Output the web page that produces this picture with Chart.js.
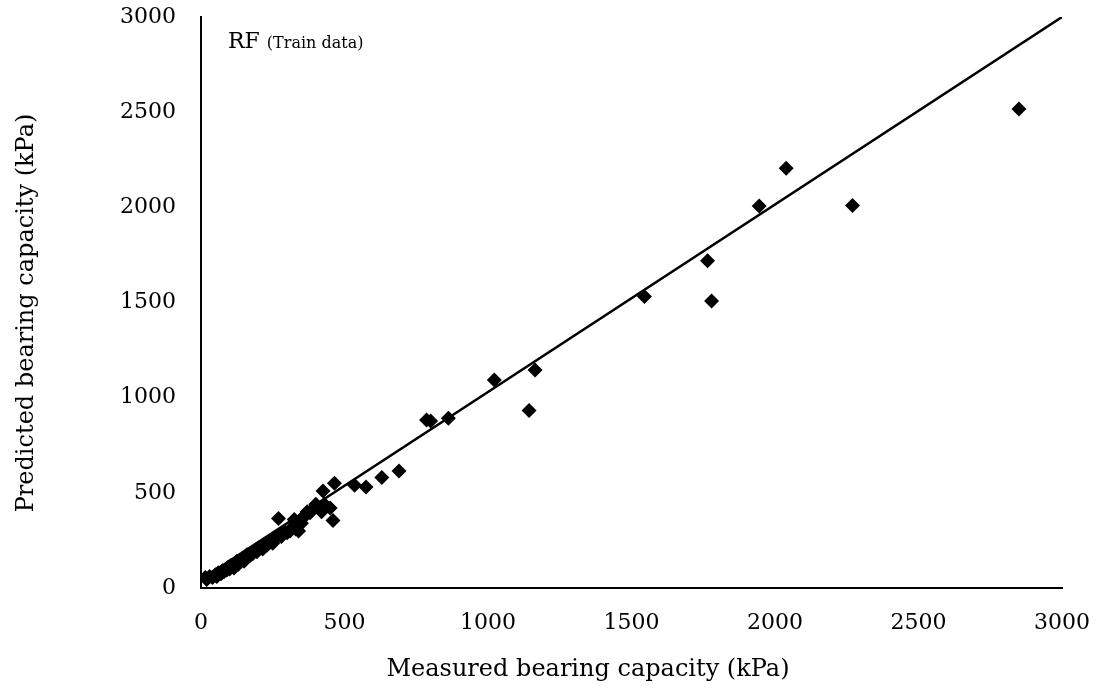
<!DOCTYPE html>
<html>
<head>
<meta charset="utf-8">
<script src="https://cdn.jsdelivr.net/npm/chart.js@4.4.1/dist/chart.umd.min.js"></script>
<style>
  html, body { margin: 0; padding: 0; background: #fff; }
  #wrap { width: 1102px; height: 689px; position: relative; }
</style>
</head>
<body>
<div id="wrap"><canvas id="chart"></canvas></div>
<script>
'use strict';

// ---- Data ----
const measured = [
  15, 20, 30, 40, 50, 55, 60, 70, 75, 80, 90, 95, 100, 105, 110, 115, 120, 125, 130,
  140, 145, 150, 155, 160, 170, 175, 180, 190, 195, 200, 210, 215, 220, 230, 240, 245,
  250, 260, 270, 280, 290, 300, 310, 320, 330, 340, 350, 360, 370, 380, 400, 410, 420,
  430, 270, 325, 425, 465, 535, 575, 630, 690, 460, 400, 450, 340, 370,
  786, 800, 862, 1022, 1164, 1143, 1545, 1765, 1779, 1945, 2039, 2270, 2850
];
const predicted = [
  55, 45, 60, 55, 70, 60, 80, 75, 90, 85, 95, 110, 100, 120, 115, 105, 130, 140, 125,
  145, 155, 140, 165, 175, 170, 185, 180, 200, 190, 210, 215, 205, 230, 225, 240, 250,
  235, 265, 275, 270, 295, 290, 300, 320, 310, 345, 340, 380, 390, 395, 430, 420, 400,
  440, 365, 360, 510, 550, 540, 530, 580, 615, 355, 440, 420, 300, 400,
  883, 877, 892, 1093, 1146, 932, 1531, 1720, 1508, 2007, 2205, 2010, 2517
];

// fitted line end points
const lineX = [0, 3000];
const lineY = [45, 3000];

const xTicks = [0, 500, 1000, 1500, 2000, 2500, 3000];
const yTicks = [0, 500, 1000, 1500, 2000, 2500, 3000];

const xTitle = 'Measured bearing capacity (kPa)';
const yTitle = 'Predicted bearing capacity (kPa)';

const FONT = "'DejaVu Serif', 'Liberation Serif', serif";

// ---- Text plugin: panel label and axis titles ----
const textPlugin = {
  id: 'texts',
  afterDraw(chart) {
    const { ctx, chartArea } = chart;
    ctx.save();
    ctx.fillStyle = '#000';

    // "RF (Train data)"
    ctx.textAlign = 'left';
    ctx.textBaseline = 'alphabetic';
    const x0 = chartArea.left + 27;
    const y0 = chartArea.top + 31;
    ctx.font = '22px ' + FONT;
    ctx.fillText('RF', x0, y0);
    const w = ctx.measureText('RF ').width;
    ctx.font = '16px ' + FONT;
    ctx.fillText('(Train data)', x0 + w, y0);

    // axis titles
    ctx.font = '24px ' + FONT;
    ctx.textAlign = 'center';
    ctx.fillText(xTitle, 588, 676);

    ctx.translate(33, 313);
    ctx.rotate(-Math.PI / 2);
    ctx.fillText(yTitle, 0, 0);
    ctx.restore();
  }
};

const points = measured.map((m, i) => ({ x: m, y: predicted[i] }));
const linePts = lineX.map((x, i) => ({ x, y: lineY[i] }));

new Chart(document.getElementById('chart'), {
  type: 'scatter',
  data: {
    datasets: [
      {
        label: 'Data',
        data: points,
        pointStyle: 'rectRot',
        pointRadius: 7.5,
        backgroundColor: '#000',
        borderColor: '#000',
        borderWidth: 0,
        order: 1
      },
      {
        type: 'line',
        label: 'Fit',
        data: linePts,
        borderColor: '#000',
        borderWidth: 2.5,
        pointRadius: 0,
        fill: false,
        order: 2
      }
    ]
  },
  options: {
    responsive: true,
    maintainAspectRatio: false,
    animation: false,
    layout: { padding: { top: 17, right: 40, left: 0, bottom: 0 } },
    plugins: {
      legend: { display: false },
      tooltip: { enabled: false }
    },
    scales: {
      x: {
        type: 'linear',
        min: 0,
        max: 3000,
        afterBuildTicks: s => { s.ticks = xTicks.map(v => ({ value: v })); },
        afterFit: s => { s.height = 101; s.paddingLeft = 0; s.paddingRight = 0; },
        grid: { display: false, drawTicks: false },
        border: { display: true, color: '#000', width: 2 },
        ticks: {
          color: '#000',
          padding: 22,
          maxRotation: 0,
          callback: v => String(v),
          font: { family: FONT, size: 22 }
        }
      },
      y: {
        type: 'linear',
        min: 0,
        max: 3000,
        afterBuildTicks: s => { s.ticks = yTicks.map(v => ({ value: v })); },
        afterFit: s => { s.width = 201; s.paddingTop = 0; s.paddingBottom = 0; },
        grid: { display: false, drawTicks: false },
        border: { display: true, color: '#000', width: 2 },
        ticks: {
          color: '#000',
          padding: 25,
          callback: v => String(v),
          font: { family: FONT, size: 22 }
        }
      }
    }
  },
  plugins: [textPlugin]
});
</script>
</body>
</html>
